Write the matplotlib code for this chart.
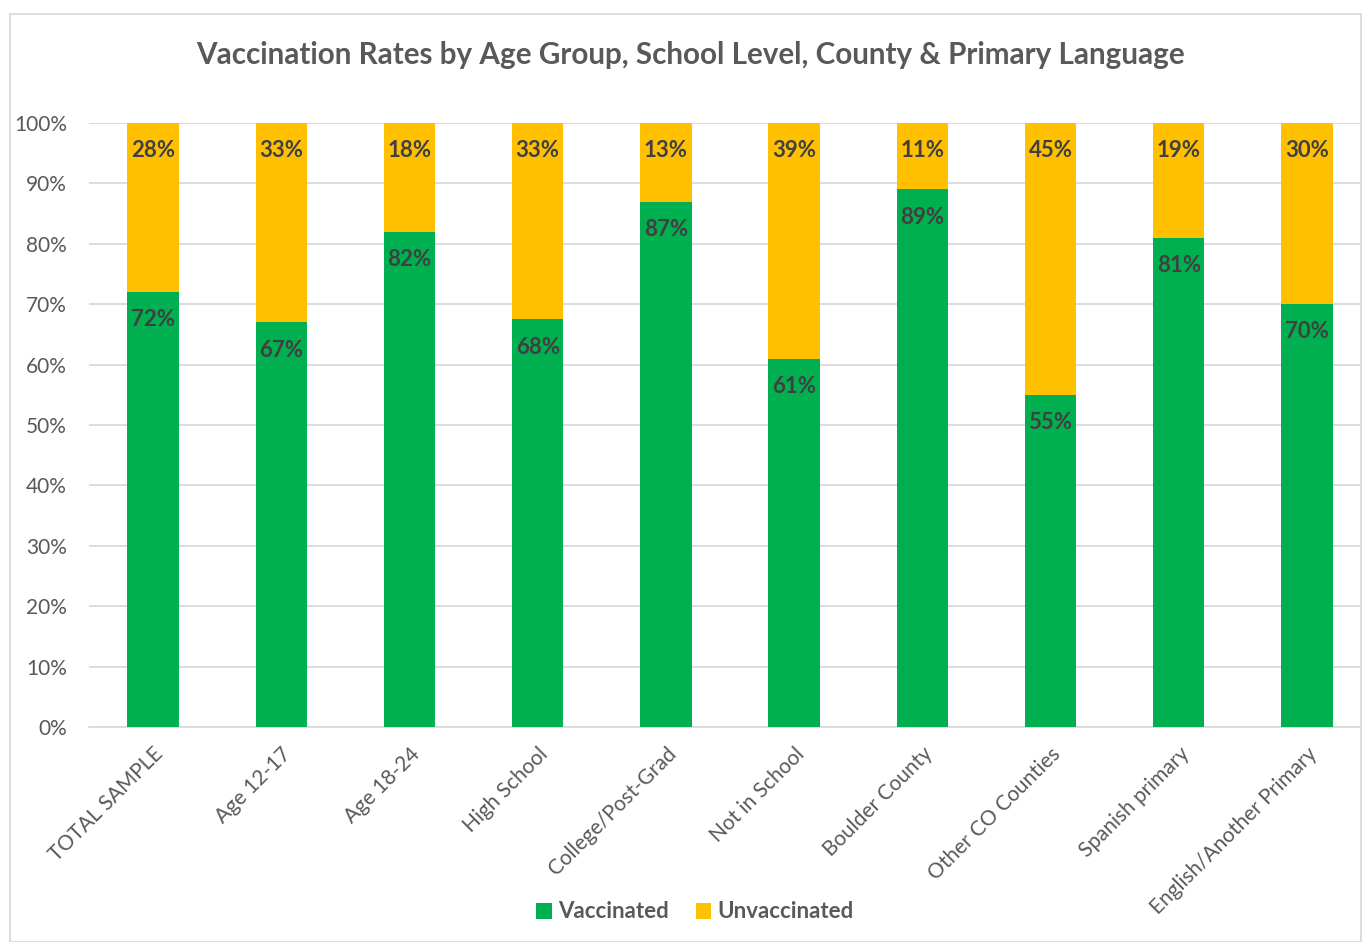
import numpy as np
import matplotlib.pyplot as plt
from matplotlib.patches import Rectangle

categories = ['TOTAL SAMPLE', 'Age 12-17', 'Age 18-24', 'High School', 'College/Post-Grad',
              'Not in School', 'Boulder County', 'Other CO Counties', 'Spanish primary',
              'English/Another Primary']
vaccinated = [72, 67, 82, 67.5, 87, 61, 89, 55, 81, 70]
unvaccinated = [28, 33, 18, 32.5, 13, 39, 11, 45, 19, 30]

green = '#00B050'
gold = '#FFC000'
gray = '#595959'
plt.rcParams['font.family'] = ['Lato', 'DejaVu Sans']

fig = plt.figure(figsize=(13.62, 9.42), dpi=100)
ax = fig.add_axes([89/1362, 1-727/942, 1282/1362, 604/942])

ind = np.arange(len(categories))
width = 0.40
p1 = ax.bar(ind, vaccinated, width, color=green, zorder=3)
p2 = ax.bar(ind, unvaccinated, width, bottom=vaccinated, color=gold, zorder=3)

def pct(v):
    return '%d%%' % int(np.floor(v + 0.5))

for i in ind:
    ax.text(i, vaccinated[i] - 4.6, pct(vaccinated[i]), ha='center', va='center',
            fontsize=16, fontweight='bold', color='#404040', zorder=4)
    ax.text(i, 100 - 4.6, pct(unvaccinated[i]), ha='center', va='center',
            fontsize=16, fontweight='bold', color='#404040', zorder=4)

ax.set_xlim(-0.5, len(categories) - 0.5)
ax.set_ylim(0, 100)
ax.set_yticks(np.arange(0, 101, 10))
ax.set_yticklabels(['%d%%' % v for v in range(0, 101, 10)])
ax.yaxis.grid(True, color='#D9D9D9', linewidth=1.3, zorder=0)
ax.set_xticks(ind)
ax.set_xticklabels(categories, rotation=45, ha='right', rotation_mode='anchor')
ax.tick_params(axis='both', length=0, labelsize=15, labelcolor=gray)
ax.tick_params(axis='y', pad=16)
ax.tick_params(axis='x', pad=12)
for s in ['top', 'right', 'left']:
    ax.spines[s].set_visible(False)
ax.spines['bottom'].set_color('#D9D9D9')
ax.spines['bottom'].set_linewidth(1.3)

fig.text(690/1362, 1-55/942, 'Vaccination Rates by Age Group, School Level, County & Primary Language',
         ha='center', va='center', fontsize=21.3, fontweight='bold', color=gray)

fig.legend((p1, p2), ('Vaccinated', 'Unvaccinated'), loc='center', bbox_to_anchor=(695/1362, 1-912/942),
           ncol=2, frameon=False, handlelength=0.7, handleheight=0.7, handletextpad=0.3,
           columnspacing=1.2, prop={'size': 16, 'weight': 'bold'}, labelcolor=gray)

fig.patches.append(Rectangle((10/1362, 0), 1351/1362, 1-14/942, transform=fig.transFigure,
                             fill=False, edgecolor='#D9D9D9', linewidth=1.3))

fig.savefig('out.png', dpi=100)
